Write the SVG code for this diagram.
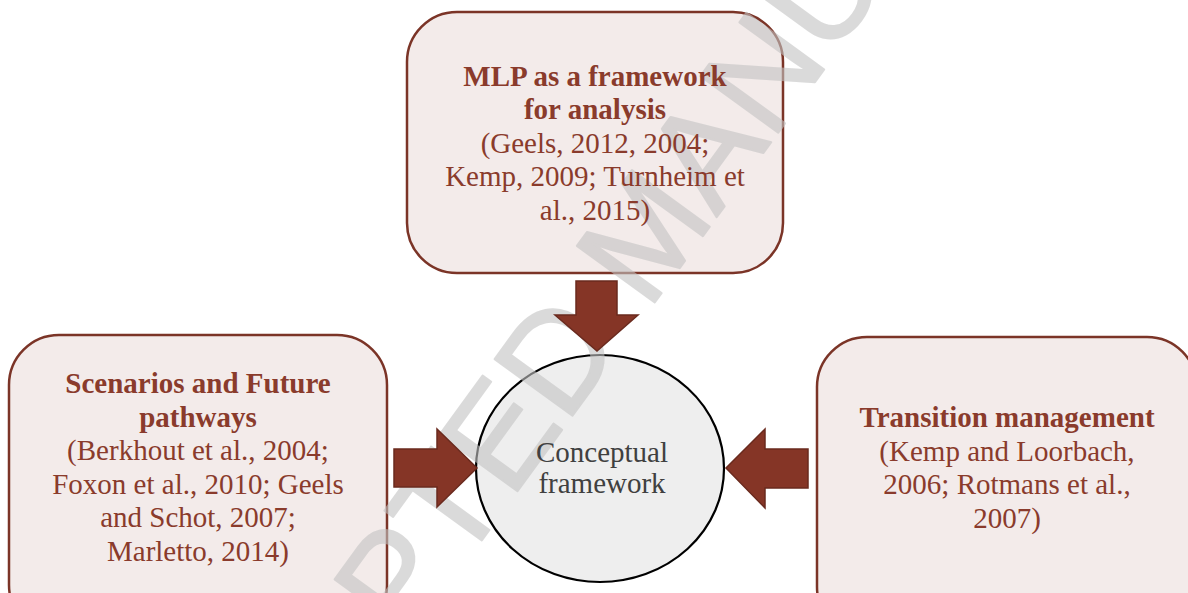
<svg xmlns="http://www.w3.org/2000/svg" width="1188" height="593" viewBox="0 0 1188 593">
<style>
.box{fill:#f3ebea;stroke:#7b3427;stroke-width:2.5}
.t{font-family:"Liberation Serif","Times New Roman",serif;font-size:29px;fill:#8a3b2c;text-anchor:middle}
.b{font-weight:bold}
.c{font-family:"Liberation Serif","Times New Roman",serif;font-size:29px;fill:#404040;text-anchor:middle}
.arrow{fill:#853526;stroke:#6a2a1e;stroke-width:1.5;stroke-linejoin:miter}
.wm{font-family:"Liberation Sans",Arial,sans-serif;font-size:140px;fill:#c3c3c3;stroke:#c3c3c3;stroke-width:2;stroke-linejoin:round;opacity:0.6}
</style>
<rect width="1188" height="593" fill="#ffffff"/>
<g id="node-mlp"><rect class="box" x="407" y="12" width="376" height="261" rx="50" ry="50"/></g>
<g id="node-scenarios"><rect class="box" x="9" y="335" width="378" height="300" rx="50" ry="50"/></g>
<g id="node-transition"><rect class="box" x="817" y="337" width="380" height="300" rx="50" ry="50"/></g>
<g id="node-conceptual"><ellipse cx="600" cy="468.5" rx="124" ry="113.5" fill="#eeeeee" stroke="#000000" stroke-width="2.2"/></g>
<text class="wm" transform="translate(177 960) rotate(-54)">ACCEPTED MANUSCRIPT</text>
<g id="labels-mlp">
<text class="t b" x="595" y="85.5">MLP as a framework</text>
<text class="t b" x="595" y="119">for analysis</text>
<text class="t" x="595" y="152.5">(Geels, 2012, 2004;</text>
<text class="t" x="595" y="186">Kemp, 2009; Turnheim et</text>
<text class="t" x="595" y="219.5">al., 2015)</text>
</g>
<g id="labels-scenarios">
<text class="t b" x="198" y="393">Scenarios and Future</text>
<text class="t b" x="198" y="426.5">pathways</text>
<text class="t" x="198" y="460">(Berkhout et al., 2004;</text>
<text class="t" x="198" y="493.5">Foxon et al., 2010; Geels</text>
<text class="t" x="198" y="527">and Schot, 2007;</text>
<text class="t" x="198" y="560.5">Marletto, 2014)</text>
</g>
<g id="labels-transition">
<text class="t b" x="1007" y="427">Transition management</text>
<text class="t" x="1007" y="460.5">(Kemp and Loorbach,</text>
<text class="t" x="1007" y="494">2006; Rotmans et al.,</text>
<text class="t" x="1007" y="527.5">2007)</text>
</g>
<g id="labels-conceptual">
<text class="c" x="602" y="462">Conceptual</text>
<text class="c" x="602" y="493">framework</text>
</g>
<g id="connectors">
<polygon class="arrow" points="576,281 617,281 617,315 638,315 597,351 555,315 576,315"/>
<polygon class="arrow" points="394,449 437,449 437,429 477,468 437,507 437,487 394,487"/>
<polygon class="arrow" points="808,449 765,449 765,429 726,468 765,508 765,488 808,488"/>
</g>
</svg>
